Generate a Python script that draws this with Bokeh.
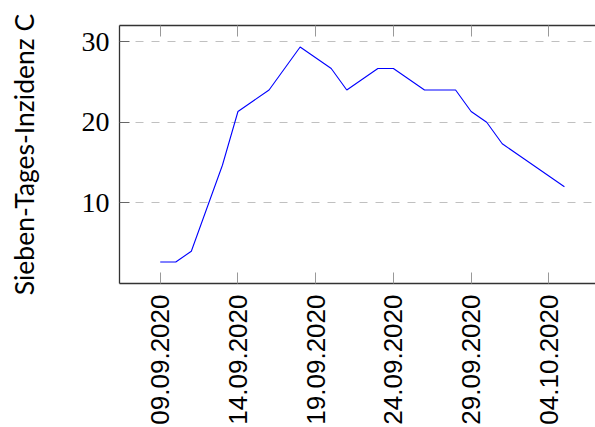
import math
from bokeh.plotting import figure
from bokeh.models import Range1d, FixedTicker, LinearAxis, ColumnDataSource
from bokeh.embed import file_html
from bokeh.resources import INLINE

# ---- data ----
dates = ["09.09.2020", "10.09.2020", "11.09.2020", "12.09.2020", "13.09.2020",
         "14.09.2020", "15.09.2020", "16.09.2020", "17.09.2020", "18.09.2020",
         "19.09.2020", "20.09.2020", "21.09.2020", "22.09.2020", "23.09.2020",
         "24.09.2020", "25.09.2020", "26.09.2020", "27.09.2020", "28.09.2020",
         "29.09.2020", "30.09.2020", "01.10.2020", "02.10.2020", "03.10.2020",
         "04.10.2020", "05.10.2020"]
incidence = [2.67, 2.67, 4.0, 9.33, 14.67, 21.33, 22.67, 24.0, 26.67, 29.33,
             28.0, 26.67, 24.0, 25.33, 26.67, 26.67, 25.33, 24.0, 24.0, 24.0,
             21.33, 20.0, 17.33, 16.0, 14.67, 13.33, 12.0]
tick_dates = ["09.09.2020", "14.09.2020", "19.09.2020", "24.09.2020",
              "29.09.2020", "04.10.2020"]
y_ticks = [10, 20, 30]
y_label = "Sieben-Tages-Inzidenz C"

day = list(range(len(dates)))
x_tick_pos = [dates.index(d) for d in tick_dates]
src = ColumnDataSource(dict(x=day, y=incidence))

p = figure(width=595, height=427, output_backend="svg", toolbar_location=None,
           x_range=Range1d(-2.62, 28.0), y_range=Range1d(0, 32),
           min_border_left=119, min_border_right=0, min_border_top=25,
           min_border_bottom=144)
p.outline_line_color = None
p.background_fill_color = "white"
p.border_fill_color = "white"

p.line("x", "y", source=src, line_color="#0000ff", line_width=1.1)

# x axis (bottom)
xa = p.xaxis[0]
xa.ticker = FixedTicker(ticks=x_tick_pos)
xa.major_label_overrides = {i: d for i, d in zip(x_tick_pos, tick_dates)}
xa.major_label_orientation = math.pi / 2
xa.major_label_text_font = "Liberation Sans"
xa.major_label_text_font_size = "26px"
xa.major_label_text_color = "black"
xa.major_label_standoff = 11
xa.major_tick_in = 11
xa.major_tick_out = 0
xa.major_tick_line_color = "#999999"
xa.minor_tick_line_color = None
xa.axis_line_color = "#333333"
xa.axis_line_width = 1.3

# top axis (ticks only)
ta = LinearAxis(ticker=FixedTicker(ticks=x_tick_pos))
ta.major_label_text_font_size = "1px"
ta.major_label_text_alpha = 0
ta.major_label_standoff = 0
ta.major_tick_in = 11
ta.major_tick_out = 0
ta.major_tick_line_color = "#999999"
ta.minor_tick_line_color = None
ta.axis_line_color = "#333333"
ta.axis_line_width = 1.3
p.add_layout(ta, "above")

# y axis
ya = p.yaxis[0]
ya.ticker = FixedTicker(ticks=y_ticks)
ya.major_label_text_font = "Liberation Serif"
ya.major_label_text_font_size = "28px"
ya.major_label_text_color = "black"
ya.major_label_standoff = 10
ya.major_tick_in = 10
ya.major_tick_out = 0
ya.major_tick_line_color = "#666666"
ya.minor_tick_line_color = None
ya.axis_line_color = "#333333"
ya.axis_line_width = 1.3
ya.axis_label = y_label
ya.axis_label_text_font = "Lato"
ya.axis_label_text_font_style = "normal"
ya.axis_label_text_font_size = "26.5px"
ya.axis_label_text_color = "black"
ya.axis_label_standoff = 39

# grid
p.xgrid.grid_line_color = None
p.ygrid.ticker = FixedTicker(ticks=y_ticks)
p.ygrid.grid_line_color = "#c0c0c0"
p.ygrid.grid_line_dash = "8 8"
p.ygrid.grid_line_width = 1

open("out.html", "w").write(file_html(p, INLINE))
